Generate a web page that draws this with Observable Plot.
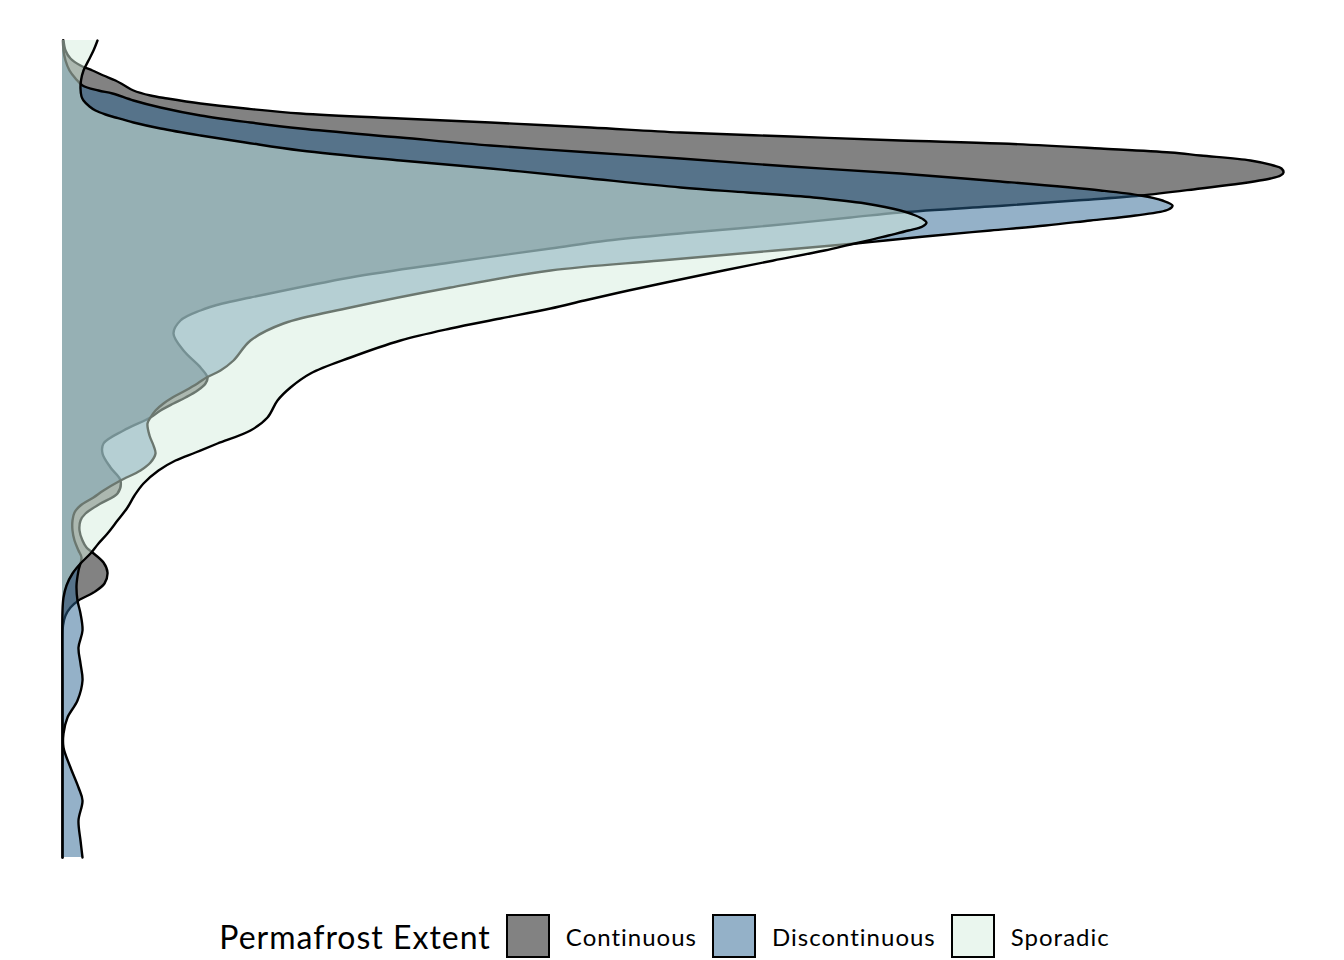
<!DOCTYPE html>
<html>
<head>
<meta charset="utf-8">
<script src="https://cdn.jsdelivr.net/npm/d3@7"></script>
<script src="https://cdn.jsdelivr.net/npm/@observablehq/plot@0.6"></script>
<style>
  html, body { margin: 0; padding: 0; background: #fff; }
  #chart svg { display: block; }
  #legend { display: flex; align-items: center; justify-content: center; height: 48px; font-family: Lato, "Open Sans", sans-serif; color: #000; }
  #legend .title { font-size: 32px; letter-spacing: 1px; margin-right: 15px; }
  #legend .sw { box-sizing: border-box; width: 44px; height: 44px; border: 2px solid #000; }
  #legend .lab { font-size: 24px; letter-spacing: 1px; margin-left: 16px; margin-right: 15px; }
</style>
</head>
<body>
<div id="chart"></div>
<div id="legend"></div>
<script>
// Density curves (x: density ×10⁻⁴, y: depth index)
const extents = ["Continuous", "Discontinuous", "Sporadic"];
const fills = ["#050505", "#296391", "#d5eddd"];

const continuousDepth = [0, 10, 18, 25, 30, 35, 40, 45, 50, 55, 58, 63, 68, 73, 78, 82, 87, 92, 96, 100, 103, 108, 112, 115, 120, 125, 128, 132, 135, 138, 143, 148, 155, 160, 165, 172, 177, 185, 192, 200, 208, 222, 237, 257, 263, 270, 280, 293, 310, 327, 337, 343, 350, 357, 363, 370, 377, 390, 403, 413, 427, 440, 453, 463, 473, 480, 490, 500, 507, 512, 522, 532, 543, 552, 560, 567, 575, 585, 600, 700, 817];
const continuousDensity = [1, 3, 8, 18, 30, 41, 53, 62, 71, 88, 105, 138, 183, 238, 338, 428, 528, 618, 728, 838, 938, 1038, 1108, 1138, 1188, 1211, 1219, 1221, 1218, 1208, 1178, 1138, 1078, 1013, 943, 838, 788, 708, 628, 545, 488, 388, 288, 188, 160, 138, 118, 111, 121, 138, 145, 143, 135, 123, 111, 98, 88, 61, 41, 40, 48, 58, 55, 38, 23, 18, 17, 20, 24, 30, 41, 45, 42, 31, 16, 8, 3, 0.5, 0, 0, 0];

const discontinuousDepth = [0, 10, 20, 30, 38, 45, 50, 53, 60, 67, 75, 82, 88, 97, 105, 112, 118, 126, 133, 141, 150, 155, 160, 165, 169, 175, 180, 185, 190, 195, 200, 203, 210, 220, 230, 247, 267, 283, 300, 320, 330, 337, 343, 350, 357, 363, 370, 377, 383, 395, 405, 413, 422, 430, 440, 450, 457, 465, 472, 480, 490, 500, 510, 517, 530, 545, 560, 573, 590, 607, 623, 640, 660, 677, 693, 707, 727, 747, 760, 780, 800, 817];
const discontinuousDensity = [0.5, 1, 3, 7, 13, 20, 36, 50, 71, 98, 138, 188, 238, 338, 428, 528, 618, 728, 838, 938, 1038, 1078, 1100, 1110, 1106, 1073, 1028, 983, 928, 873, 823, 793, 713, 598, 488, 388, 288, 221, 188, 171, 158, 144, 135, 123, 110, 101, 93, 88, 85, 87, 91, 93, 88, 78, 58, 41, 31, 18, 12, 10, 10, 12, 16, 19, 16, 14, 15, 18, 20, 16, 18, 20, 15, 5, 1, 1, 8, 16, 20, 16, 18, 20];

const sporadicDepth = [0, 10, 20, 30, 40, 48, 56, 60, 66, 70, 74, 77, 82, 88, 95, 102, 110, 120, 128, 137, 147, 152, 157, 163, 170, 175, 179, 182, 186, 190, 195, 200, 204, 210, 220, 230, 240, 250, 260, 268, 278, 288, 300, 317, 333, 347, 360, 377, 390, 403, 412, 420, 430, 443, 455, 467, 480, 493, 503, 513, 523, 533, 545, 557, 570, 650, 817];
const sporadicDensity = [35, 31, 26, 21, 18.5, 18, 19, 21, 27, 33, 43, 53, 71, 98, 138, 183, 238, 338, 428, 518, 618, 685, 751, 803, 838, 853, 861, 864, 860, 846, 826, 806, 788, 762, 711, 661, 613, 566, 522, 488, 438, 388, 338, 288, 248, 228, 215, 205, 188, 155, 133, 113, 96, 81, 72, 65, 55, 45, 36, 28, 18, 10, 4, 1, 0, 0, 0];

const series = [
  {name: extents[0], depth: continuousDepth, density: continuousDensity},
  {name: extents[1], depth: discontinuousDepth, density: discontinuousDensity},
  {name: extents[2], depth: sporadicDepth, density: sporadicDensity}
];

const marks = [];
for (const s of series) {
  const rows = s.depth.map((d, i) => ({extent: s.name, depth: d, density: s.density[i]}));
  marks.push(Plot.areaX(rows, {y: "depth", x: "density", fill: "extent", fillOpacity: 0.5, curve: "catmull-rom"}));
  marks.push(Plot.lineX(rows, {y: "depth", x: "density", stroke: "#000", strokeWidth: 2.4, curve: "catmull-rom"}));
}

const chart = Plot.plot({
  width: 1344,
  height: 912,
  marginLeft: 62,
  marginRight: 0,
  marginTop: 40,
  marginBottom: 55,
  x: {domain: [0, 1282], axis: null},
  y: {domain: [0, 817], reverse: true, axis: null},
  color: {domain: extents, range: fills},
  marks
});
document.getElementById("chart").appendChild(chart);

const legend = document.getElementById("legend");
const t = document.createElement("span");
t.className = "title";
t.textContent = "Permafrost Extent";
legend.appendChild(t);
extents.forEach((name, i) => {
  const sw = document.createElement("span");
  sw.className = "sw";
  const c = d3.color(fills[i]);
  c.opacity = 0.5;
  sw.style.background = c.formatRgb();
  legend.appendChild(sw);
  const lab = document.createElement("span");
  lab.className = "lab";
  lab.textContent = name;
  legend.appendChild(lab);
});
</script>
</body>
</html>
